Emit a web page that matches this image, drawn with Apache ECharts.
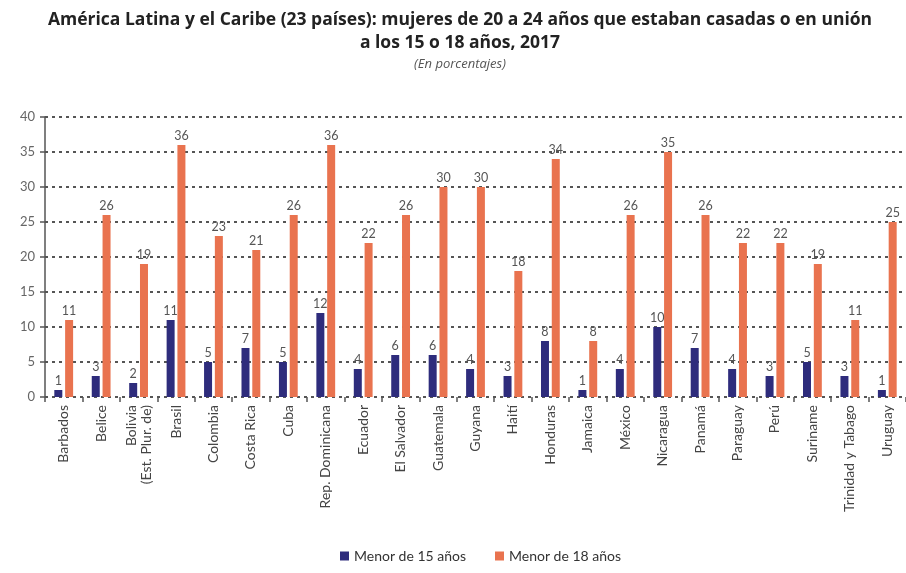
<!DOCTYPE html>
<html><head><meta charset="utf-8">
<script src="https://cdn.jsdelivr.net/npm/echarts@6/dist/echarts.min.js"></script>
<style>html,body{margin:0;padding:0;background:#fff}#c{width:906px;height:573px}</style>
</head><body><div id="c"></div>
<script>
const categories = ["Barbados","Belice","Bolivia\n(Est. Plur. de)","Brasil","Colombia","Costa Rica","Cuba","Rep. Dominicana","Ecuador","El Salvador","Guatemala","Guyana","Haití","Honduras","Jamaica","México","Nicaragua","Panamá","Paraguay","Perú","Suriname","Trinidad y Tabago","Uruguay"];
const menor15 = [1,3,2,11,5,7,5,12,4,6,6,4,3,8,1,4,10,7,4,3,5,3,1];
const menor18 = [11,26,19,36,23,21,26,36,22,26,30,30,18,34,8,26,35,26,22,22,19,11,25];
const yTicks = [0,5,10,15,20,25,30,35,40];
const seriesNames = ["Menor de 15 años","Menor de 18 años"];

const font = "Lato, 'Open Sans', sans-serif";
const tfont = "'Open Sans', Lato, sans-serif";
const chart = echarts.init(document.getElementById('c'));
chart.setOption({
  animation:false,
  textStyle:{fontFamily:font},
  title:[
    {text:"América Latina y el Caribe (23 países): mujeres de 20 a 24 años que estaban casadas o en unión\na los 15 o 18 años, 2017",
     left:455, top:4, textAlign:'center',
     textStyle:{fontFamily:tfont,fontSize:17.5,fontWeight:'bold',color:'#222',lineHeight:23}},
    {text:"(En porcentajes)", left:455, top:53, textAlign:'center',
     textStyle:{fontFamily:tfont,fontSize:13,fontStyle:'italic',fontWeight:'normal',color:'#555'}}
  ],
  legend:{bottom:5,left:335,itemWidth:9,itemHeight:9,itemGap:29,icon:'rect',
    textStyle:{fontFamily:font,fontSize:14,color:'#333'}},
  grid:{left:45,right:-10,top:117,bottom:176,containLabel:false},
  xAxis:{type:'category',data:categories,
    axisLine:{show:false},
    axisTick:{show:true,alignWithLabel:false,length:5,lineStyle:{color:'#555',width:1.5}},
    axisLabel:{rotate:90,interval:0,fontSize:14,color:'#444',margin:8,lineHeight:15,fontFamily:font}},
  yAxis:{type:'value',min:yTicks[0],max:yTicks[yTicks.length-1],interval:5,
    axisLine:{show:true,lineStyle:{color:'#555',width:1.5}},
    axisTick:{show:true,length:5,lineStyle:{color:'#555',width:1.5}},
    axisLabel:{fontSize:13,color:'#666',margin:10,fontFamily:font}},
  series:[
    {name:seriesNames[0],type:'bar',data:menor15,barWidth:8,barGap:'35%',
     itemStyle:{color:'#2e2c7c'},
     label:{show:true,position:'top',distance:3,fontSize:12.5,color:'#555',fontFamily:font}},
    {name:seriesNames[1],type:'bar',data:menor18,barWidth:8,
     itemStyle:{color:'#e9734f'},
     label:{show:true,position:'top',distance:3,fontSize:12.5,color:'#555',fontFamily:font}}
  ]
});
chart.setOption({yAxis:{splitLine:{show:true,lineStyle:{color:'#555',type:[3,4],width:2}}}});
</script></body></html>
